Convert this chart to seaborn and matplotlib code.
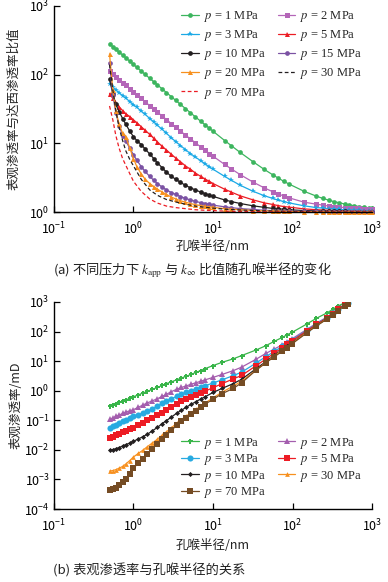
# -*- coding: utf-8 -*-
"""
Apparent permeability vs pore-throat radius (two stacked panels).
"""
import matplotlib
matplotlib.use('Agg')
import matplotlib.pyplot as plt
from matplotlib.ticker import LogLocator, NullLocator
import seaborn as sns

# ──────────────────────────────────────────────
# Data
# ──────────────────────────────────────────────
# panel (a): k_app / k_inf ratio
radius_a = [0.5, 0.55, 0.6, 0.66, 0.73, 0.8, 0.9, 1.0, 1.1, 1.25, 1.4, 1.6, 1.8, 2.0,
            2.3, 2.6, 3.0, 3.4, 3.9, 4.5, 5.2, 6.0, 7.0, 8.0, 9.0, 10, 14, 17, 22, 32,
            44, 56, 66, 78, 90, 140, 200, 240, 290, 330, 380, 450, 510, 590, 690, 790,
            910, 1000]
ratio_p1 = [281, 256, 234, 213, 193, 176, 157, 141, 128, 113, 101, 88.5, 78.8, 71,
            61.9, 54.8, 47.7, 42.2, 36.9, 32.1, 27.9, 24.3, 21, 18.5, 16.6, 15, 11, 9.24,
            7.36, 5.38, 4.18, 3.5, 3.12, 2.79, 2.56, 2.0, 1.7, 1.58, 1.48, 1.42, 1.37,
            1.31, 1.27, 1.24, 1.2, 1.18, 1.15, 1.14]
ratio_p2 = [115, 101, 92.7, 84.3, 76.3, 69.8, 62.1, 56, 51, 45, 40.3, 35.4, 31.6, 28.5,
            24.9, 22.2, 19.3, 17.2, 15.1, 13.2, 11.6, 10.2, 8.86, 7.88, 7.11, 6.5, 4.93,
            4.24, 3.5, 2.72, 2.25, 1.98, 1.83, 1.71, 1.61, 1.39, 1.3, 1.26, 1.22, 1.2,
            1.18, 1.16, 1.15, 1.14, 1.13, 1.12, 1.11, 1.1]
ratio_p3 = [74, 66, 60, 54.5, 49.5, 45.5, 40.5, 36.5, 33.5, 29.5, 26.5, 23, 20.5, 18.3,
            16, 14, 12, 10.6, 9.3, 8.1, 7.1, 6.3, 5.6, 5.0, 4.55, 4.2, 3.3, 2.9, 2.45,
            2.0, 1.73, 1.58, 1.49, 1.42, 1.36, 1.23, 1.16, 1.14, 1.12, 1.1, 1.09, 1.08,
            1.07, 1.06, 1.06, 1.05, 1.05, 1.05]
ratio_p5 = [53, 45, 39, 34, 30, 27, 24.5, 22, 20, 17.5, 15.5, 13.5, 11.8, 10.5, 9.0,
            8.0, 6.9, 6.1, 5.4, 4.7, 4.2, 3.7, 3.3, 3.0, 2.8, 2.6, 2.15, 1.95, 1.72, 1.5,
            1.36, 1.29, 1.24, 1.2, 1.18, 1.11, 1.08, 1.07, 1.06, 1.05, 1.04, 1.04, 1.03,
            1.03, 1.03, 1.02, 1.02, 1.02]
ratio_p10 = [87, 52, 37, 29, 23, 19, 15, 12.5, 11, 9.6, 8.3, 7, 6, 5.2, 4.4, 3.8, 3.3,
             3.0, 2.7, 2.45, 2.25, 2.1, 1.95, 1.85, 1.76, 1.69, 1.5, 1.42, 1.33, 1.23,
             1.17, 1.13, 1.11, 1.1, 1.08, 1.05, 1.04, 1.03, 1.03, 1.02, 1.02, 1.02, 1.01,
             1.01, 1.01, 1.01, 1.01, 1.01]
ratio_p15 = [150, 50, 28, 18, 13, 10.8, 8.5, 6.8, 5.7, 4.6, 3.9, 3.3, 2.9, 2.6, 2.3, 2.1,
             1.92, 1.8, 1.68, 1.58, 1.5, 1.43, 1.37, 1.33, 1.29, 1.26, 1.19, 1.16, 1.12,
             1.09, 1.06, 1.05, 1.04, 1.04, 1.03, 1.02, 1.02, 1.01, 1.01, 1.01, 1.01, 1.01,
             1.0, 1.0, 1.0, 1.0, 1.0, 1.0]
ratio_p20 = [200, 60, 30, 19, 14, 12.5, 8.5, 6, 4.6, 3.6, 3.0, 2.6, 2.35, 2.15, 1.95,
             1.8, 1.65, 1.55, 1.46, 1.39, 1.33, 1.28, 1.24, 1.21, 1.19, 1.17, 1.12, 1.1,
             1.08, 1.05, 1.04, 1.03, 1.03, 1.02, 1.02, 1.01, 1.01, 1.01, 1.01, 1.0, 1.0,
             1.0, 1.0, 1.0, 1.0, 1.0, 1.0, 1.0]
radius_dash = [0.5, 0.55, 0.6, 0.66, 0.73, 0.8, 0.9, 1.0, 1.25, 1.6, 2.0, 2.6, 3.4, 4.5,
               6, 8, 10, 14, 22, 44, 90, 200, 450, 1000]
ratio_p30 = [140, 60, 30, 17, 11, 7.8, 5.8, 4.7, 3.0, 2.1, 1.75, 1.52, 1.4, 1.3, 1.22,
             1.17, 1.14, 1.1, 1.07, 1.04, 1.02, 1.01, 1.0, 1.0]
ratio_p70 = [35, 22, 13, 8.5, 6, 4.8, 3.6, 2.8, 2.0, 1.55, 1.35, 1.22, 1.16, 1.12, 1.08,
             1.06, 1.05, 1.03, 1.02, 1.01, 1.0, 1.0, 1.0, 1.0]

# panel (b): apparent permeability, mD
radius_b = [0.5, 0.55, 0.6, 0.66, 0.73, 0.8, 0.9, 1.0, 1.15, 1.3, 1.5, 1.7, 2.0, 2.3,
            2.6, 3.0, 3.5, 4.0, 4.6, 5.3, 6.1, 7.0, 8.0, 10, 13, 18, 23, 35, 46, 59, 74,
            85, 98, 150, 200, 270, 320, 370, 450, 500]
perm_p1 = [0.30, 0.33, 0.36, 0.40, 0.44, 0.49, 0.55, 0.63, 0.72, 0.83, 0.95, 1.1, 1.29,
           1.51, 1.74, 2.0, 2.34, 2.69, 3.09, 3.55, 4.17, 4.79, 5.62, 7.08, 9.12, 12.0,
           15.5, 24.0, 33.1, 46.8, 63.1, 77.6, 93.3, 178, 282, 427, 562, 724, 933, 1047]
perm_p2 = [0.107, 0.12, 0.135, 0.151, 0.17, 0.191, 0.209, 0.229, 0.275, 0.324, 0.389,
           0.447, 0.537, 0.646, 0.759, 0.933, 1.12, 1.29, 1.45, 1.66, 1.86, 2.09, 2.34,
           2.82, 3.55, 4.79, 6.31, 11.7, 18.2, 25.7, 35.5, 45.7, 56.2, 117, 191, 309, 437,
           603, 832, 977]
perm_p3 = [0.055, 0.063, 0.0708, 0.0794, 0.0912, 0.105, 0.117, 0.135, 0.155, 0.174,
           0.204, 0.24, 0.302, 0.372, 0.437, 0.537, 0.646, 0.759, 0.871, 1.0, 1.15, 1.29,
           1.48, 1.82, 2.34, 3.24, 4.27, 8.71, 14.1, 21.4, 31.6, 40.7, 51.3, 110, 182,
           295, 417, 575, 794, 933]
perm_p5 = [0.0245, 0.0275, 0.0309, 0.0347, 0.0389, 0.0437, 0.049, 0.055, 0.0676, 0.0813,
           0.102, 0.12, 0.148, 0.178, 0.219, 0.282, 0.363, 0.437, 0.513, 0.603, 0.708,
           0.832, 0.977, 1.26, 1.74, 2.51, 3.31, 7.08, 11.7, 18.6, 28.2, 37.2, 47.9, 105,
           174, 288, 407, 562, 776, 912]
perm_p10 = [0.00977, 0.0102, 0.011, 0.012, 0.0135, 0.0151, 0.017, 0.0195, 0.0234, 0.0275,
            0.0339, 0.0427, 0.0575, 0.0776, 0.0977, 0.129, 0.174, 0.219, 0.275, 0.347,
            0.427, 0.525, 0.631, 0.871, 1.2, 1.74, 2.45, 5.62, 9.55, 15.8, 24.5, 32.4,
            41.7, 95.5, 162, 275, 389, 537, 759, 891]
perm_p30 = [0.00191, 0.002, 0.00214, 0.0024, 0.00275, 0.00331, 0.00437, 0.00575,
            0.00759, 0.00955, 0.0129, 0.0166, 0.0229, 0.0316, 0.0407, 0.0562, 0.0794,
            0.105, 0.138, 0.182, 0.234, 0.302, 0.389, 0.575, 0.891, 1.45, 2.09, 5.01,
            8.91, 14.8, 23.4, 30.9, 39.8, 93.3, 158, 269, 380, 525, 741, 871]
perm_p70 = [0.000437, 0.000468, 0.000525, 0.000631, 0.000794, 0.00105, 0.00158, 0.0024,
            0.00355, 0.00501, 0.00741, 0.0105, 0.0158, 0.0234, 0.0316, 0.0457, 0.0676,
            0.0912, 0.123, 0.162, 0.214, 0.275, 0.355, 0.513, 0.794, 1.2, 1.86, 5.01,
            8.71, 14.1, 21.4, 28.8, 38.0, 89.1, 155, 263, 372, 513, 741, 871]

labels_a = ["1", "2", "3", "5", "10", "15", "20", "30", "70"]
labels_b = ["1", "2", "3", "5", "10", "30", "70"]

# ──────────────────────────────────────────────
# Style
# ──────────────────────────────────────────────
sns.set_style("ticks")
plt.rcParams['font.family'] = ['Noto Sans CJK SC', 'DejaVu Sans']
plt.rcParams['mathtext.fontset'] = 'stix'
plt.rcParams['axes.unicode_minus'] = False

CJK = ['Noto Sans CJK SC', 'DejaVu Sans']
SERIF = ['Liberation Serif', 'DejaVu Serif']

fig = plt.figure(figsize=(3.88, 5.82), dpi=100)
ax1 = fig.add_axes([0.139, 0.6357, 0.820, 0.354])
ax2 = fig.add_axes([0.139, 0.1254, 0.820, 0.3557])

# --- panel (a) ---
series_a = [
    (radius_a, ratio_p1, '#3cb55e', 'o', 3.4, '-'),
    (radius_a, ratio_p2, '#b466b8', 's', 3.6, '-'),
    (radius_a, ratio_p3, '#1ba9e6', '*', 4.2, '-'),
    (radius_a, ratio_p5, '#ec1c24', '^', 3.6, '-'),
    (radius_a, ratio_p10, '#231f20', 'o', 3.4, '-'),
    (radius_a, ratio_p15, '#7b52a3', 'o', 3.4, '-'),
    (radius_a, ratio_p20, '#f7901e', '^', 3.6, '-'),
    (radius_dash, ratio_p30, '#231f20', None, 0, (0, (3, 2))),
    (radius_dash, ratio_p70, '#ec1c24', None, 0, (0, (3, 2))),
]
for (xs, ys, col, mk, ms, ls), lab in zip(series_a, labels_a):
    sns.lineplot(x=xs, y=ys, ax=ax1, color=col, marker=mk, markersize=ms,
                 markeredgewidth=0, linewidth=0.9, linestyle=ls,
                 estimator=None, sort=False, label=f"$p$ = {lab} MPa", clip_on=False)

# --- panel (b) ---
series_b = [
    (perm_p1, '#39b54a', 'P', 3.6),
    (perm_p2, '#a45eae', '^', 3.8),
    (perm_p3, '#27aae1', 'o', 4.4),
    (perm_p5, '#ed1c24', 's', 4.0),
    (perm_p10, '#231f20', 'D', 2.6),
    (perm_p30, '#f7901e', '^', 3.4),
    (perm_p70, '#754c24', 's', 4.0),
]
for (ys, col, mk, ms), lab in zip(series_b, labels_b):
    sns.lineplot(x=radius_b, y=ys, ax=ax2, color=col, marker=mk, markersize=ms,
                 markeredgewidth=0, linewidth=0.9, estimator=None, sort=False,
                 label=f"$p$ = {lab} MPa")

for ax in (ax1, ax2):
    ax.set_xscale('log')
    ax.set_yscale('log')
    ax.set_xlim(0.1, 1000)
    sns.despine(ax=ax)
    for s in ('left', 'bottom'):
        ax.spines[s].set_color('black')
        ax.spines[s].set_linewidth(1.0)
    ax.xaxis.set_major_locator(LogLocator(base=10, numticks=20))
    ax.yaxis.set_major_locator(LogLocator(base=10, numticks=20))
    ax.xaxis.set_minor_locator(NullLocator())
    ax.yaxis.set_minor_locator(NullLocator())
    ax.tick_params(which='major', direction='in', length=4, width=0.9,
                   labelsize=9, colors='black')
    ax.tick_params(axis='x', pad=6)
    ax.tick_params(axis='y', pad=3)
    ax.set_xlabel("孔喉半径/nm", fontsize=9, family=CJK, color='#222222')

ax1.set_ylim(1, 1000)
ax2.set_ylim(1e-4, 1000)

ax1.set_ylabel("表观渗透率与达西渗透率比值", fontsize=9, family=CJK, color='#222222')
ax2.set_ylabel("表观渗透率/mD", fontsize=9, family=CJK, color='#222222')
ax1.yaxis.set_label_coords(-0.104, 0.5)
ax2.yaxis.set_label_coords(-0.0975, 0.5)
ax1.xaxis.set_label_coords(0.5, -0.135)
ax2.xaxis.set_label_coords(0.5, -0.145)

# legends: row-major order as in the reference
h, l = ax1.get_legend_handles_labels()
order = [0, 2, 4, 6, 8, 1, 3, 5, 7]
ax1.legend([h[i] for i in order], [l[i] for i in order], ncol=2, frameon=False,
           loc='upper left', bbox_to_anchor=(0.40, 0.985), borderaxespad=0, borderpad=0,
           handlelength=1.4, handletextpad=0.4, columnspacing=1.0, labelspacing=0.33,
           prop={'family': SERIF, 'size': 9})

h, l = ax2.get_legend_handles_labels()
order = [0, 2, 4, 6, 1, 3, 5]
ax2.legend([h[i] for i in order], [l[i] for i in order], ncol=2, frameon=False,
           loc='upper left', bbox_to_anchor=(0.40, 0.355), borderaxespad=0, borderpad=0,
           handlelength=1.4, handletextpad=0.4, columnspacing=1.0, labelspacing=0.12,
           prop={'family': SERIF, 'size': 9})

# captions
fig.text(53 / 388, 1 - 270 / 582,
         r"(a) 不同压力下 $k_{\rm app}$ 与 $k_{\infty}$ 比值随孔喉半径的变化",
         ha='left', va='center', fontsize=9.5, family=CJK, color='#222222')
fig.text(53 / 388, 1 - 570 / 582, "(b) 表观渗透率与孔喉半径的关系",
         ha='left', va='center', fontsize=9.5, family=CJK, color='#222222')

fig.savefig("out.png", dpi=100)
plt.close(fig)
